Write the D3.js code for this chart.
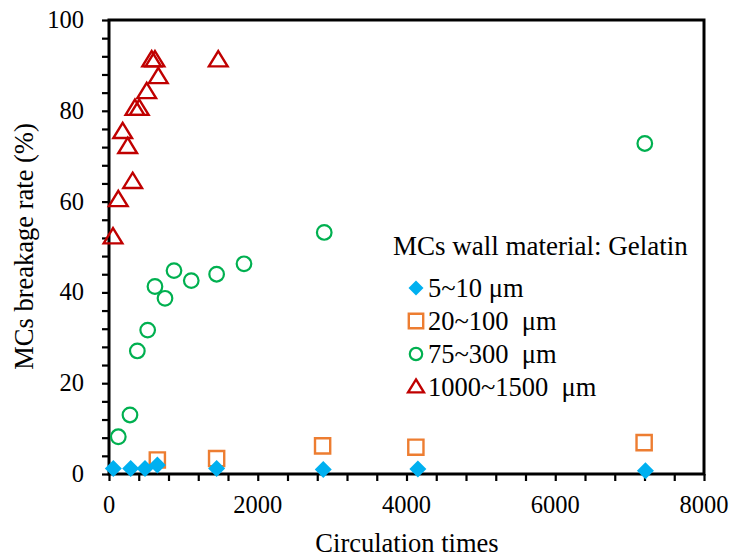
<!DOCTYPE html>
<html><head><meta charset="utf-8">
<script src="https://cdn.jsdelivr.net/npm/d3@7"></script>
<style>body{margin:0;background:#fff}svg{display:block}</style>
</head><body>
<svg id="c" width="730" height="557" font-family="'Liberation Serif', 'DejaVu Serif', serif"></svg>
<script>
// Data
const seriesNames = ["5~10 \u03bcm", "20~100  \u03bcm", "75~300  \u03bcm", "1000~1500  \u03bcm"];
const seriesColors = ["#00B0F0", "#ED7D31", "#00B050", "#C00000"];
const seriesShapes = ["diamond", "square", "circle", "triangle"];

const x1 = [58, 292, 484, 650, 1447, 2881, 4153, 7213];
const y1 = [1.2, 1.2, 1.2, 2.0, 1.2, 1.0, 1.1, 0.7];

const x2 = [650, 1447, 2872, 4126, 7195];
const y2 = [3.1, 3.4, 6.2, 5.9, 6.9];

const x3 = [125, 282, 381, 520, 618, 753, 874, 1106, 1447, 1815, 2894, 7204];
const y3 = [8.2, 13.0, 27.1, 31.7, 41.3, 38.7, 44.8, 42.6, 44.0, 46.3, 53.2, 72.8];

const x4 = [54, 125, 184, 251, 318, 349, 407, 507, 574, 618, 663, 1469];
const y4 = [52.2, 60.4, 75.4, 72.1, 64.4, 80.5, 80.5, 84.2, 91.2, 91.2, 87.5, 91.2];

const xTicks = [0, 2000, 4000, 6000, 8000];
const yTicks = [0, 20, 40, 60, 80, 100];
const xTitle = "Circulation times";
const yTitle = "MCs breakage rate (%)";
const legendTitle = "MCs wall material: Gelatin";

const seriesX = [x1, x2, x3, x4];
const seriesY = [y1, y2, y3, y4];

const FONT = "'Liberation Serif', 'DejaVu Serif', serif";
const svg = d3.select("#c");
const L = 109, R = 704, T = 20, B = 474;
const x = d3.scaleLinear().domain([0, 8000]).range([L, R]);
const y = d3.scaleLinear().domain([0, 100]).range([B, T]);

const xMinor = d3.range(0, 8001, 400);
const yMinor = d3.range(0, 101, 4);

const gx = svg.append("g").attr("transform", `translate(0,${B})`)
  .call(d3.axisBottom(x).tickValues(xMinor).tickSize(7).tickFormat(""));
const gy = svg.append("g").attr("transform", `translate(${L},0)`)
  .call(d3.axisLeft(y).tickValues(yMinor).tickSize(7).tickFormat(""));
[gx, gy].forEach(g => {
  g.selectAll("path").remove();
  g.selectAll("line").attr("stroke", "#000").attr("stroke-width", 2.2);
});

function txt(sel) { return sel.attr("font-family", FONT).attr("fill", "#000"); }

txt(svg.append("g").selectAll("text").data(xTicks).join("text")
  .attr("x", d => x(d)).attr("y", B + 39).attr("text-anchor", "middle")
  .attr("font-size", 24.5).text(d => d));
txt(svg.append("g").selectAll("text").data(yTicks).join("text")
  .attr("x", L - 25).attr("y", d => y(d) + 8).attr("text-anchor", "end")
  .attr("font-size", 24.5).text(d => d));

svg.append("rect").attr("x", L).attr("y", T).attr("width", R - L).attr("height", B - T)
  .attr("fill", "none").attr("stroke", "#000").attr("stroke-width", 3);

txt(svg.append("text").attr("x", 407).attr("y", 552).attr("text-anchor", "middle")
  .attr("font-size", 26.5).text(xTitle));
txt(svg.append("text").attr("transform", "translate(33,246.5) rotate(-90)").attr("text-anchor", "middle")
  .attr("font-size", 26.5).text(yTitle));

function shapePath(shape, s) {
  if (shape === "diamond") return `M0,${-s}L${s},0L0,${s}L${-s},0Z`;
  if (shape === "square") return `M${-s},${-s}H${s}V${s}H${-s}Z`;
  if (shape === "triangle") return `M0,${-s*1.05}L${s*1.1},${s*0.75}L${-s*1.1},${s*0.75}Z`;
  return null;
}
function drawMarker(g, shape, color, size) {
  if (shape === "circle") {
    g.append("circle").attr("r", size).attr("fill", "none").attr("stroke", color).attr("stroke-width", 2.2);
  } else if (shape === "diamond") {
    g.append("path").attr("d", shapePath(shape, size)).attr("fill", color).attr("stroke", "none");
  } else {
    g.append("path").attr("d", shapePath(shape, size)).attr("fill", "none").attr("stroke", color).attr("stroke-width", 2.4);
  }
}
const sizes = {diamond: 8.5, square: 7.6, circle: 7.3, triangle: 8.5};

[2, 3, 1, 0].forEach(i => {
  const g = svg.append("g");
  seriesX[i].forEach((v, j) => {
    const m = g.append("g").attr("transform", `translate(${x(v)},${y(seriesY[i][j])})`);
    drawMarker(m, seriesShapes[i], seriesColors[i], sizes[seriesShapes[i]]);
  });
});

txt(svg.append("text").attr("x", 393).attr("y", 255).attr("font-size", 27).text(legendTitle));
const lg = svg.append("g");
const legendSizes = [7.5, 7.2, 6.2, 7.2];
seriesNames.forEach((n, i) => {
  const base = 297 + i * 33;
  const m = lg.append("g").attr("transform", `translate(416,${base - 9})`);
  drawMarker(m, seriesShapes[i], seriesColors[i], legendSizes[i]);
  txt(lg.append("text").attr("x", 428).attr("y", base).attr("font-size", 26.5)
    .attr("xml:space", "preserve").style("white-space", "pre").text(n));
});
</script>
</body></html>
